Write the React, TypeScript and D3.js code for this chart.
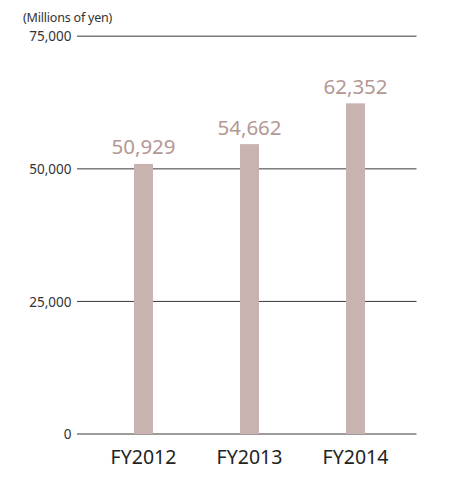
import React from "react";
import * as d3 from "d3";

const categories = ["FY2012", "FY2013", "FY2014"];
const values = [50929, 54662, 62352];
const yTicks = [0, 25000, 50000, 75000];
const unitLabel = "(Millions of yen)";

const W = 461;
const H = 477;

export default function App() {
  const y = d3.scaleLinear().domain([0, 75000]).range([434, 36.3]);
  const x = d3.scalePoint<string>().domain(categories).range([143.5, 355.5]);
  const barW = 19;
  const fmt = d3.format(",");
  const font = "'Noto Sans', 'Open Sans', sans-serif";

  return (
    <svg
      width={W}
      height={H}
      style={{ position: "absolute", left: 0, top: 0, background: "#fff" }}
    >
      <text x={23} y={22} fontSize={12.5} fontFamily={font} fill="#333" letterSpacing={-0.2}>
        {unitLabel}
      </text>
      {yTicks.map((t) => {
        const isEdge = t === 0 || t === 75000;
        return (
          <g key={t}>
            <line
              x1={77}
              x2={416.5}
              y1={y(t)}
              y2={y(t)}
              stroke={isEdge ? "#7a7a7a" : "#3a3a3a"}
              strokeWidth={isEdge ? 1.6 : 1}
            />
            <text
              x={71.5}
              y={y(t)}
              dy="0.38em"
              textAnchor="end"
              fontSize={13.5}
              fontFamily={font}
              fill="#333"
            >
              {fmt(t)}
            </text>
          </g>
        );
      })}
      {categories.map((c, i) => (
        <g key={c}>
          <rect
            x={(x(c) as number) - barW / 2}
            y={y(values[i])}
            width={barW}
            height={y(0) - y(values[i])}
            fill="#c8b3b1"
          />
          <text
            x={x(c) as number}
            y={y(values[i]) - 9.5}
            textAnchor="middle"
            fontSize={20.5}
            fontFamily={font}
            fill="#b39795"
          >
            {fmt(values[i])}
          </text>
          <text
            x={x(c) as number}
            y={464}
            textAnchor="middle"
            fontSize={19.5}
            fontFamily={font}
            fill="#222"
          >
            {c}
          </text>
        </g>
      ))}
    </svg>
  );
}
